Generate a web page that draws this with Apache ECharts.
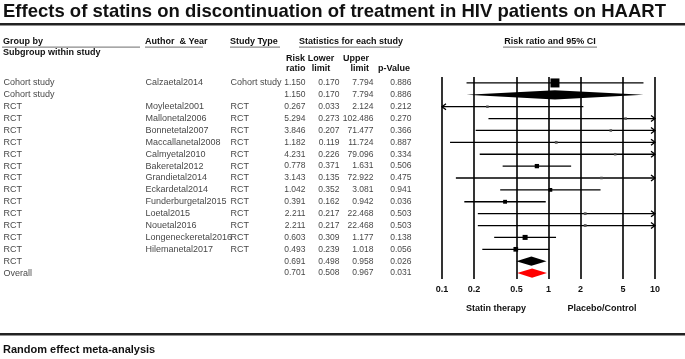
<!DOCTYPE html>
<html>
<head>
<meta charset="utf-8">
<script src="https://cdn.jsdelivr.net/npm/echarts@6/dist/echarts.min.js"></script>
<style>
  html, body { margin: 0; padding: 0; background: #fff; }
  #chart { width: 685px; height: 359px; }
</style>
</head>
<body>
<div id="chart"></div>
<script>
// rows of the forest plot, top to bottom
const groups = ["Cohort study", "Cohort study", "RCT", "RCT", "RCT", "RCT", "RCT", "RCT", "RCT", "RCT", "RCT", "RCT", "RCT", "RCT", "RCT", "RCT", "Overall"];
const authors = ["Calzaetal2014", "", "Moyleetal2001", "Mallonetal2006", "Bonnetetal2007", "Maccallanetal2008", "Calmyetal2010", "Bakeretal2012", "Grandietal2014", "Eckardetal2014", "Funderburgetal2015", "Loetal2015", "Nouetal2016", "Longeneckeretal2016", "Hilemanetal2017", "", ""];
const studyTypes = ["Cohort study", "", "RCT", "RCT", "RCT", "RCT", "RCT", "RCT", "RCT", "RCT", "RCT", "RCT", "RCT", "RCT", "RCT", "", ""];
const riskRatio = [1.150, 1.150, 0.267, 5.294, 3.846, 1.182, 4.231, 0.778, 3.143, 1.042, 0.391, 2.211, 2.211, 0.603, 0.493, 0.691, 0.701];
const lowerLimit = [0.170, 0.170, 0.033, 0.273, 0.207, 0.119, 0.226, 0.371, 0.135, 0.352, 0.162, 0.217, 0.217, 0.309, 0.239, 0.498, 0.508];
const upperLimit = [7.794, 7.794, 2.124, 102.486, 71.477, 11.724, 79.096, 1.631, 72.922, 3.081, 0.942, 22.468, 22.468, 1.177, 1.018, 0.958, 0.967];
const pValues = [0.886, 0.886, 0.212, 0.270, 0.366, 0.887, 0.334, 0.506, 0.475, 0.941, 0.036, 0.503, 0.503, 0.138, 0.056, 0.026, 0.031];
// relative weight within subgroup (estimated from square sizes)
const weights = [100, 100, 2, 2, 2, 3, 2, 14, 2, 9, 10, 3, 3, 22, 18, 100, 100];
// study = square + CI line, summary = black diamond, overall = red diamond
const rowKind = ["study", "summary", "study", "study", "study", "study", "study", "study", "study", "study", "study", "study", "study", "study", "study", "summary", "overall"];
const tickVals = [0.1, 0.2, 0.5, 1, 2, 5, 10];

const FONT = "Liberation Sans, Arial, sans-serif";
const LOG_MIN = Math.log10(0.1), LOG_MAX = Math.log10(10);
const nRows = riskRatio.length;
const rowIdx = riskRatio.map((_, i) => i);

const chart = echarts.init(document.getElementById("chart"), null, { renderer: "canvas" });

function fmt3(v) { return v.toFixed(3); }

function renderForest(params, api) {
  const i = params.dataIndex;
  const row = api.value(3);
  const y = api.coord([0, row])[1];
  const xMin = api.coord([LOG_MIN, row])[0];
  const xMax = api.coord([LOG_MAX, row])[0];
  const xr = api.coord([api.value(0), row])[0];
  let xl = api.coord([api.value(1), row])[0];
  let xh = api.coord([api.value(2), row])[0];
  const kind = rowKind[i];
  const children = [];

  if (kind !== "study") {
    const h = 4.6;
    children.push({
      type: "polygon",
      shape: { points: [[xl, y], [xr, y - h], [xh, y], [xr, y + h]] },
      style: { fill: kind === "overall" ? "#ff0000" : "#000" },
    });
    return { type: "group", children };
  }

  const leftArrow = xl < xMin, rightArrow = xh > xMax;
  xl = Math.max(xl, xMin);
  xh = Math.min(xh, xMax);
  const line = { stroke: "#000", lineWidth: 1.3, fill: null };
  children.push({ type: "line", shape: { x1: xl, y1: y, x2: xh, y2: y }, style: line });
  if (leftArrow) {
    children.push({ type: "polyline", shape: { points: [[xl + 4, y - 3], [xl, y], [xl + 4, y + 3]] }, style: line });
  }
  if (rightArrow) {
    children.push({ type: "polyline", shape: { points: [[xh - 4, y - 3], [xh, y], [xh - 4, y + 3]] }, style: line });
  }
  const s = 1.5 + Math.sqrt(weights[i]) * 0.75;
  children.push({
    type: "rect",
    shape: { x: xr - s / 2, y: y - s / 2, width: s, height: s },
    style: { fill: weights[i] < 5 ? "#555" : "#000" },
  });
  return { type: "group", children };
}

// text columns of the table, drawn as invisible scatter points with labels
function textColumn(xPos, values, align, size) {
  return {
    type: "scatter",
    xAxisIndex: 1,
    yAxisIndex: 1,
    symbolSize: 1,
    itemStyle: { color: "transparent" },
    silent: true,
    data: values.map((v, i) => ({ value: [xPos, i], name: String(v) })),
    label: {
      show: true,
      position: align === "left" ? "right" : "left",
      distance: 0,
      formatter: (p) => p.name,
      color: "#111",
      fontFamily: FONT,
      fontSize: size || 9,
    },
  };
}

function headText(x, y, text, opts) {
  return {
    type: "text",
    x, y,
    style: Object.assign({
      text,
      fill: "#111",
      font: "bold 9px " + FONT,
      textVerticalAlign: "middle",
      textAlign: "left",
    }, opts || {}),
  };
}

function underline(x1, x2, y) {
  return { type: "rect", shape: { x: x1, y: y, width: x2 - x1, height: 1.3 }, style: { fill: "#8a8a8a" } };
}

const option = {
  animation: false,
  backgroundColor: "#fff",
  grid: [
    { left: 442, top: 77, width: 213, height: 202 },
    { left: 0, top: 77, width: 685, height: 202 },
  ],
  xAxis: [
    {
      type: "value",
      gridIndex: 0,
      min: LOG_MIN,
      max: LOG_MAX,
      axisLine: { show: false },
      axisTick: { show: false },
      splitLine: { show: false },
      axisLabel: {
        customValues: tickVals.map((t) => Math.log10(t)),
        formatter: (v) => {
          const t = tickVals.find((tv) => Math.abs(Math.log10(tv) - v) < 1e-6);
          return t === undefined ? "" : String(t);
        },
        color: "#111",
        fontFamily: FONT,
        fontWeight: "bold",
        fontSize: 9,
        margin: 6,
      },
    },
    { type: "value", gridIndex: 1, min: 0, max: 685, show: false },
  ],
  yAxis: [
    { type: "value", gridIndex: 0, min: -0.5, max: nRows - 0.5, inverse: true, show: false },
    { type: "value", gridIndex: 1, min: -0.5, max: nRows - 0.5, inverse: true, show: false },
  ],
  series: [
    {
      type: "custom",
      xAxisIndex: 0,
      yAxisIndex: 0,
      renderItem: renderForest,
      clip: false,
      silent: true,
      data: rowIdx.map((i) => [Math.log10(riskRatio[i]), Math.log10(lowerLimit[i]), Math.log10(upperLimit[i]), i]),
      markLine: {
        silent: true,
        symbol: ["none", "none"],
        label: { show: false },
        lineStyle: { color: "#000", width: 1.6, type: "solid" },
        data: tickVals.map((t) => ({ xAxis: Math.log10(t) })),
      },
      z: 3,
    },
    textColumn(3, groups, "left"),
    textColumn(145, authors, "left"),
    textColumn(230, studyTypes, "left"),
    textColumn(306, riskRatio.map(fmt3), "right", 8.5),
    textColumn(340, lowerLimit.map(fmt3), "right", 8.5),
    textColumn(374, upperLimit.map(fmt3), "right", 8.5),
    textColumn(412, pValues.map(fmt3), "right", 8.5),
  ],
  graphic: [
    headText(3, 12, "Effects of statins on discontinuation of treatment in HIV patients on HAART", { font: "bold 18.5px " + FONT }),
    { type: "rect", shape: { x: 0, y: 23, width: 685, height: 2.5 }, style: { fill: "#222" } },
    headText(3, 42, "Group by"),
    underline(2, 140, 46.5),
    headText(3, 53, "Subgroup within study"),
    headText(145, 42, "Author  & Year"),
    underline(145, 203, 46.5),
    headText(230, 42, "Study Type"),
    underline(230, 280, 46.5),
    headText(299, 42, "Statistics for each study"),
    underline(299, 400, 46.5),
    headText(286, 59, "Risk"),
    headText(286, 69, "ratio"),
    headText(321, 59, "Lower", { textAlign: "center" }),
    headText(321, 69, "limit", { textAlign: "center" }),
    headText(369, 59, "Upper", { textAlign: "right" }),
    headText(369, 69, "limit", { textAlign: "right" }),
    headText(410, 69, "p-Value", { textAlign: "right" }),
    headText(550, 42, "Risk ratio and 95% CI", { textAlign: "center" }),
    underline(503, 597, 46.5),
    headText(496, 309, "Statin therapy", { textAlign: "center" }),
    headText(602, 309, "Placebo/Control", { textAlign: "center" }),
    { type: "rect", shape: { x: 0, y: 333, width: 685, height: 2.5 }, style: { fill: "#222" } },
    headText(3, 350, "Random effect meta-analysis", { font: "bold 11px " + FONT }),
  ],
};

chart.setOption(option);
window.addEventListener("resize", () => chart.resize());
</script>
</body>
</html>
